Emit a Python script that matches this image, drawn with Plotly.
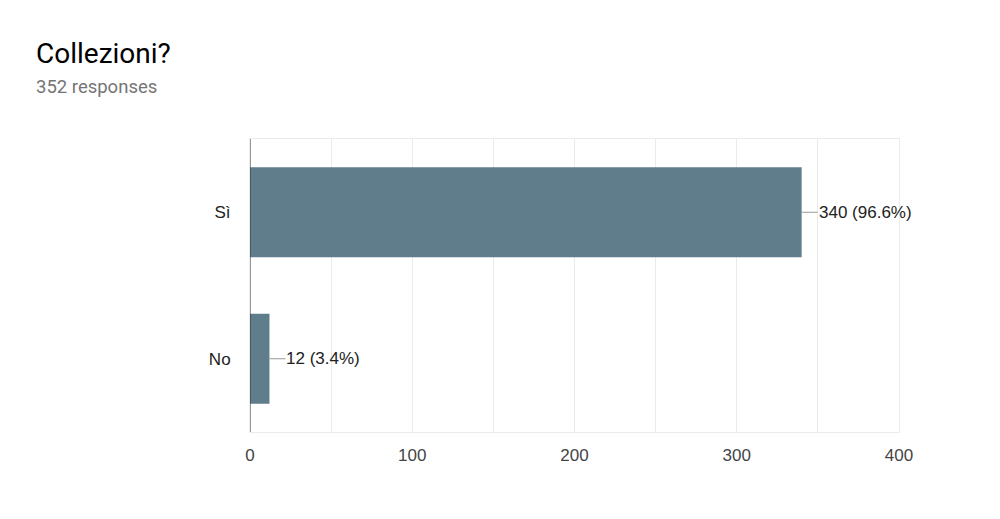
import plotly.graph_objects as go

categories = ["Sì", "No"]
counts = [340, 12]
labels = ["340 (96.6%)", "12 (3.4%)"]
x_ticks = [0, 100, 200, 300, 400]

OFF = 8  # page body margin
ML, MR, MT, MB = 250 - OFF, 1000 - 899 + OFF, 139 - OFF, 519 - 432 + OFF
W, H = 1000, 519
H_plot = H - MT - MB
W_plot = W - ML - MR
AX_FONT = "Liberation Sans, Arial, sans-serif"


def px_to_paper_x(px):
    return (px - OFF - ML) / W_plot


def px_to_paper_y(py):
    return (H - MB - (py - OFF)) / H_plot


fig = go.Figure()
fig.add_trace(go.Bar(
    x=counts, y=categories, orientation="h",
    marker=dict(color="#607d8b", line=dict(width=0)),
    width=0.615, hoverinfo="skip"
))

for c, v, lab in zip(categories, counts, labels):
    fig.add_shape(type="line", xref="x", yref="y", xsizemode="pixel",
                  xanchor=v, x0=0, x1=16, y0=c, y1=c,
                  line=dict(color="#999999", width=1))
    fig.add_annotation(x=v, y=c, xref="x", yref="y", text=lab, showarrow=False,
                       xanchor="left", xshift=15,
                       font=dict(family=AX_FONT, size=17, color="#222222"))

fig.add_shape(type="line", xref="x", yref="paper", x0=0, x1=0, y0=0, y1=1,
              line=dict(color="#333333", width=1))

fig.add_annotation(x=px_to_paper_x(34), y=px_to_paper_y(53), xref="paper", yref="paper",
                   xanchor="left", yanchor="middle", text="Collezioni?", showarrow=False,
                   font=dict(family="Roboto", size=28, color="#000000"))
fig.add_annotation(x=px_to_paper_x(34), y=px_to_paper_y(87), xref="paper", yref="paper",
                   xanchor="left", yanchor="middle", text="352 responses", showarrow=False,
                   font=dict(family="Roboto", size=18.5, color="#757575"))

fig.update_layout(
    width=W, height=H,
    margin=dict(l=ML, r=MR, t=MT, b=MB),
    paper_bgcolor="white", plot_bgcolor="white",
    showlegend=False,
    font=dict(family=AX_FONT, size=17, color="#222222"),
    xaxis=dict(range=[0, 400], tickvals=x_ticks, showgrid=True,
               gridcolor="#ebebeb", gridwidth=1,
               minor=dict(dtick=50, showgrid=True, gridcolor="#ebebeb"),
               zeroline=False, showline=True, linecolor="#ebebeb", mirror=True,
               ticks="", ticklabelstandoff=8,
               tickfont=dict(family=AX_FONT, size=17, color="#444444"),
               fixedrange=True),
    yaxis=dict(categoryorder="array", categoryarray=["No", "Sì"],
               showgrid=False, zeroline=False, showline=True, linecolor="#ebebeb",
               mirror=True, ticks="", ticklabelstandoff=15,
               tickfont=dict(family=AX_FONT, size=17, color="#222222"),
               fixedrange=True),
)

fig.write_html("out.html")
